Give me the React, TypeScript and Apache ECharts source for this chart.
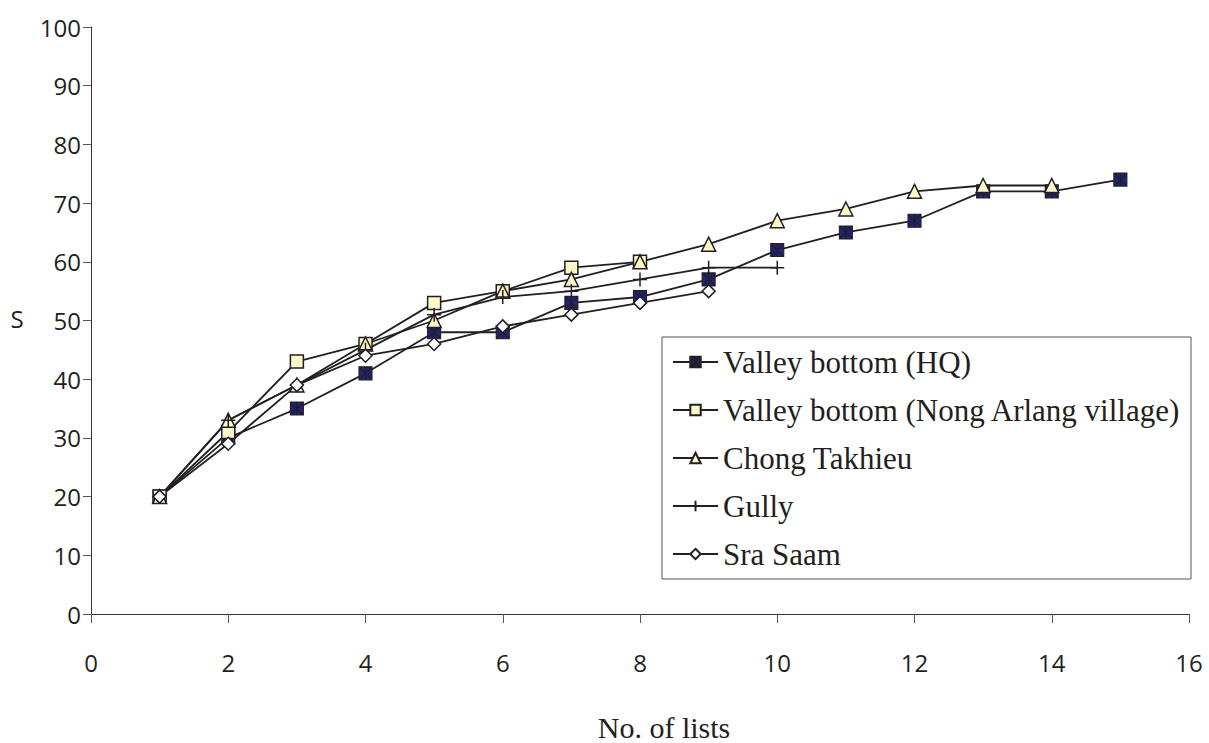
import React, { useEffect, useRef } from "react";
import * as echarts from "echarts";

const lists = [1, 2, 3, 4, 5, 6, 7, 8, 9, 10, 11, 12, 13, 14, 15];
const valleyHQ = [20, 30, 35, 41, 48, 48, 53, 54, 57, 62, 65, 67, 72, 72, 74];
const nongArlang = [20, 31, 43, 46, 53, 55, 59, 60];
const chongTakhieu = [20, 33, 39, 46, 50, 55, 57, 60, 63, 67, 69, 72, 73, 73];
const gully = [20, 33, 39, 45, 51, 54, 55, 57, 59, 59];
const sraSaam = [20, 29, 39, 44, 46, 49, 51, 53, 55];

const seriesNames = [
  "Valley bottom (HQ)",
  "Valley bottom (Nong Arlang village)",
  "Chong Takhieu",
  "Gully",
  "Sra Saam",
];
const xTitle = "No. of lists";
const yTitle = "S";

const SERIF = "'Liberation Serif', 'Times New Roman', serif";
const SANS = "'Open Sans', 'Noto Sans', sans-serif";

function pairs(vals: number[]) {
  return vals.map((v, i) => [lists[i], v]);
}

export default function App() {
  const ref = useRef<HTMLDivElement>(null);
  useEffect(() => {
    if (!ref.current) return;
    const chart = echarts.init(ref.current, undefined, { renderer: "svg" });
    const lineStyle = { color: "#231f20", width: 1.8 };
    const mk = (
      name: string,
      vals: number[],
      symbol: string,
      size: number,
      fill: string,
      bw: number
    ) => ({
      name,
      type: "line",
      data: pairs(vals),
      symbol,
      symbolSize: size,
      showAllSymbol: true,
      lineStyle,
      itemStyle: { color: fill, borderColor: "#231f20", borderWidth: bw },
      emphasis: { disabled: true },
    });
    chart.setOption({
      animation: false,
      backgroundColor: "#fff",
      grid: { left: 91, right: 20, top: 27, bottom: 129 },
      xAxis: {
        type: "value",
        min: 0,
        max: 16,
        interval: 2,
        axisLine: { lineStyle: { color: "#333", width: 1 } },
        axisTick: { show: true, length: 9, lineStyle: { color: "#555" } },
        axisLabel: { margin: 36, fontFamily: SANS, fontSize: 24, color: "#231f20" },
        splitLine: { show: false },
      },
      yAxis: {
        type: "value",
        min: 0,
        max: 100,
        interval: 10,
        axisLine: { show: true, lineStyle: { color: "#333", width: 1 } },
        axisTick: { show: true, length: 8, lineStyle: { color: "#555" } },
        axisLabel: { margin: 10, fontFamily: SANS, fontSize: 24, color: "#231f20" },
        splitLine: { show: false },
      },
      legend: {
        orient: "vertical",
        left: 662,
        top: 337,
        padding: [8, 10, 8, 10],
        itemGap: 14,
        itemWidth: 45,
        itemHeight: 13,
        backgroundColor: "#fff",
        borderColor: "#555",
        borderWidth: 1,
        borderRadius: 0,
        selectedMode: false,
        textStyle: { fontFamily: SERIF, fontSize: 31, lineHeight: 34, color: "#231f20" },
        data: seriesNames,
      },
      graphic: [
        {
          type: "text",
          x: 17,
          y: 318,
          style: {
            text: yTitle,
            font: `24px ${SANS}`,
            fill: "#231f20",
            textAlign: "center",
            textVerticalAlign: "middle",
          },
        },
        {
          type: "text",
          x: 664,
          y: 727,
          style: {
            text: xTitle,
            font: `30px ${SERIF}`,
            fill: "#231f20",
            textAlign: "center",
            textVerticalAlign: "middle",
          },
        },
      ],
      series: [
        mk(
          seriesNames[0],
          valleyHQ,
          "path://M0,0L10,0L10,10L0,10Z M0,0L10,10 M10,0L0,10 M5,0L5,10",
          13,
          "#1f2472",
          1.1
        ),
        mk(seriesNames[1], nongArlang, "rect", 13, "#fcf6c8", 1.5),
        mk(seriesNames[2], chongTakhieu, "triangle", 14, "#fcf6c8", 1.5),
        mk(seriesNames[3], gully, "path://M5,0L5,10M0,5L10,5", 14, "#231f20", 1.5),
        mk(seriesNames[4], sraSaam, "diamond", 13, "#ffffff", 1.5),
      ],
    });
    return () => chart.dispose();
  }, []);
  return (
    <div
      ref={ref}
      style={{ position: "fixed", left: 0, top: 0, width: 1209, height: 743 }}
    />
  );
}
